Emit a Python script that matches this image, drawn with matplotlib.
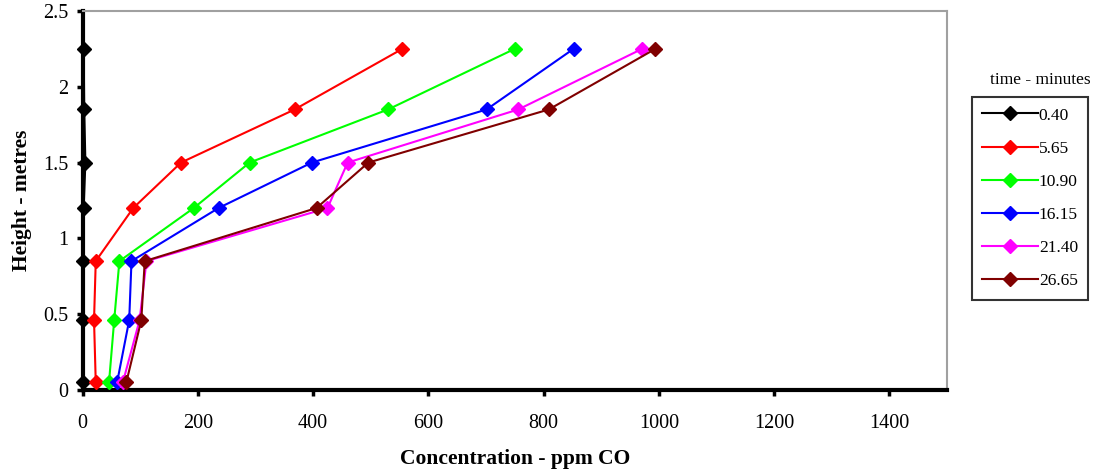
import matplotlib
matplotlib.use("Agg")
import matplotlib.pyplot as plt

heights = [0.05, 0.46, 0.85, 1.2, 1.5, 1.85, 2.25]
series_labels = ["0.40", "5.65", "10.90", "16.15", "21.40", "26.65"]
conc_040 = [1, 1, 1, 2, 5, 3, 2]
conc_565 = [23, 20, 23, 88, 171, 368, 555]
conc_1090 = [46, 55, 64, 193, 290, 530, 750]
conc_1615 = [60, 81, 85, 236, 398, 701, 852]
conc_2140 = [70, 99, 111, 425, 460, 756, 971]
conc_2665 = [76, 102, 108, 406, 496, 809, 994]
colors = ["#000000", "#FF0000", "#00FF00", "#0000FF", "#FF00FF", "#800000"]
x_ticks = [0, 200, 400, 600, 800, 1000, 1200, 1400]
y_ticks = [0, 0.5, 1, 1.5, 2, 2.5]
y_tick_labels = ["0", "0.5", "1", "1.5", "2", "2.5"]

plt.rcParams['font.family'] = ['Liberation Serif', 'DejaVu Serif']

fig = plt.figure(figsize=(11, 4.75), dpi=100)
ax = fig.add_axes([0.075, 0.179, 0.786, 0.798])

all_series = [conc_040, conc_565, conc_1090, conc_1615, conc_2140, conc_2665]
handles = []
for vals, c, lab in zip(all_series, colors, series_labels):
    h, = ax.plot(vals, heights, color=c, marker='D', markersize=7.5,
                 linewidth=1.5, label=lab, clip_on=False, zorder=3)
    handles.append(h)

ax.set_xlim(0, 1500)
ax.set_ylim(0, 2.5)
ax.set_xticks(x_ticks)
ax.set_xticklabels([str(t) for t in x_ticks])
ax.set_yticks(y_ticks)
ax.set_yticklabels(y_tick_labels)
ax.tick_params(axis='both', labelsize=14.5, length=4, width=2.5, direction='out',
               color='black', pad=6)
ax.tick_params(axis='x', pad=13)

for s in ['left', 'bottom']:
    ax.spines[s].set_color('black')
    ax.spines[s].set_linewidth(3)
for s in ['top', 'right']:
    ax.spines[s].set_color('#a0a0a0')
    ax.spines[s].set_linewidth(1.5)

ax.set_xlabel("Concentration - ppm CO", fontsize=15.5, fontweight='bold', labelpad=12)
ax.set_ylabel("Height - metres", fontsize=15.5, fontweight='bold', labelpad=8)

fig.text(1040 / 1100, 1 - 80 / 475, "time - minutes", fontsize=12.5,
         ha='center', va='center')
leg = fig.legend(handles=handles, loc='upper left',
                 bbox_to_anchor=(972 / 1100, 1 - 97 / 475),
                 frameon=True, fancybox=False, fontsize=12.5,
                 handlelength=3.2, handletextpad=0.05, labelspacing=0.98,
                 borderpad=0.6, borderaxespad=0)
leg.get_frame().set_edgecolor('black')
leg.get_frame().set_linewidth(1.5)
for lh in leg.get_lines():
    lh.set_markersize(7)

fig.savefig("out.png", dpi=100)
